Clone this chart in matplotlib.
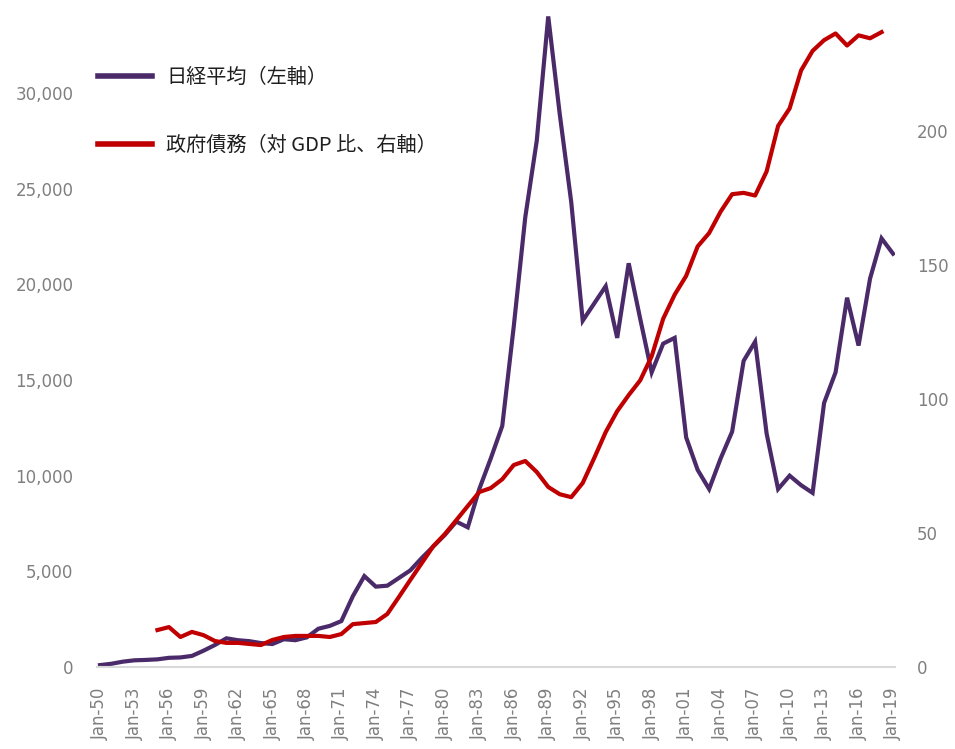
import matplotlib
matplotlib.use("Agg")
import matplotlib.pyplot as plt
from matplotlib.ticker import FuncFormatter, FixedLocator
from matplotlib.lines import Line2D
from matplotlib.font_manager import FontProperties

plt.rcParams['font.family'] = ['DejaVu Sans', 'Noto Sans CJK JP']

# ---- data ----
nikkei_years = list(range(1950, 2020))
nikkei = [100, 170, 280, 350, 370, 400, 480, 500, 580, 850,
          1150, 1500, 1400, 1350, 1250, 1200, 1450, 1400, 1550, 2000,
          2150, 2400, 3700, 4750, 4200, 4250, 4650, 5050, 5700, 6300,
          6900, 7600, 7300, 9300, 10900, 12600, 17800, 23500, 27500, 34000,
          28900, 24300, 18100, 19000, 19900, 17200, 21100, 18200, 15400, 16900,
          17200, 12000, 10300, 9300, 10900, 12300, 16000, 17000, 12200, 9300,
          10000, 9500, 9100, 13800, 15400, 19300, 16800, 20300, 22400, 21600]

debt_years = list(range(1955, 2019))
debt = [13.8, 14.9, 11.2, 13.1, 11.9, 9.7, 9.0, 9.0, 8.6, 8.2,
        10.1, 11.2, 11.6, 11.6, 11.6, 11.2, 12.3, 16.0, 16.4, 16.8,
        19.8, 26.1, 32.5, 38.8, 45.1, 49.6, 54.8, 60.1, 65.3, 66.8,
        70.1, 75.4, 76.9, 72.8, 67.2, 64.5, 63.4, 68.7, 78.0, 87.7,
        95.5, 101.5, 107.0, 116.0, 130.0, 139.0, 146.0, 157.0, 162.0, 170.0,
        176.5, 177.0, 176.0, 185.0, 202.0, 208.5, 222.7, 230.0, 234.0, 236.5,
        232.0, 235.8, 234.7, 237.0]

tick_years = list(range(1950, 2020, 3))
tick_labels = ["Jan-%02d" % (y % 100) for y in tick_years]

left_ticks = [0, 5000, 10000, 15000, 20000, 25000, 30000]
right_ticks = [0, 50, 100, 150, 200]

label_nikkei = "日経平均（左軸）"
label_debt = "政府債務（対 GDP 比、右軸）"

# ---- styling ----
purple = "#4B2A6A"
red = "#C00000"
grey_txt = "#7F7F7F"

W, H = 955, 749
fig = plt.figure(figsize=(W / 100, H / 100), dpi=100)
fig.patch.set_facecolor("white")
ax = fig.add_axes([97 / W, 82 / H, (895 - 97) / W, 669.7 / H])
ax2 = ax.twinx()

ax.plot(nikkei_years, nikkei, color=purple, lw=3.0, solid_joinstyle="miter")
ax2.plot(debt_years, debt, color=red, lw=3.0)

ax.set_xlim(1949.74, 2019.17)
ax.set_ylim(0, 35000)
ax2.set_ylim(0, 250)

ax.xaxis.set_major_locator(FixedLocator(tick_years))
ax.set_xticklabels(tick_labels, rotation=90, fontsize=12, color=grey_txt)
ax.yaxis.set_major_locator(FixedLocator(left_ticks))
ax.yaxis.set_major_formatter(FuncFormatter(lambda v, p: f"{v:,.0f}"))
ax2.yaxis.set_major_locator(FixedLocator(right_ticks))
ax2.yaxis.set_major_formatter(FuncFormatter(lambda v, p: f"{v:.0f}"))

for a in (ax, ax2):
    for s in ("top", "left", "right", "bottom"):
        a.spines[s].set_visible(False)
    a.tick_params(length=0)
ax.spines["bottom"].set_visible(True)
ax.spines["bottom"].set_color("#D9D9D9")
ax.spines["bottom"].set_linewidth(1.5)

ax.tick_params(axis="x", pad=15)
ax.tick_params(axis="y", pad=17, labelsize=12, labelcolor=grey_txt)
ax2.tick_params(axis="y", pad=16, labelsize=12, labelcolor=grey_txt)

handles = [Line2D([], [], color=purple, lw=4),
           Line2D([], [], color=red, lw=4)]
leg = ax.legend(handles, [label_nikkei, label_debt], loc="upper left",
                bbox_to_anchor=(98 / W, 1 - 67 / H), bbox_transform=fig.transFigure,
                frameon=False, borderpad=0, borderaxespad=0,
                handlelength=2.7, handletextpad=0.7, labelspacing=2.35,
                prop=FontProperties(family=["Noto Sans CJK JP", "DejaVu Sans"], size=14.5))
for t in leg.get_texts():
    t.set_color("#1F1F1F")
leg.set_zorder(10)

fig.savefig("out.png", dpi=100, facecolor="white")
